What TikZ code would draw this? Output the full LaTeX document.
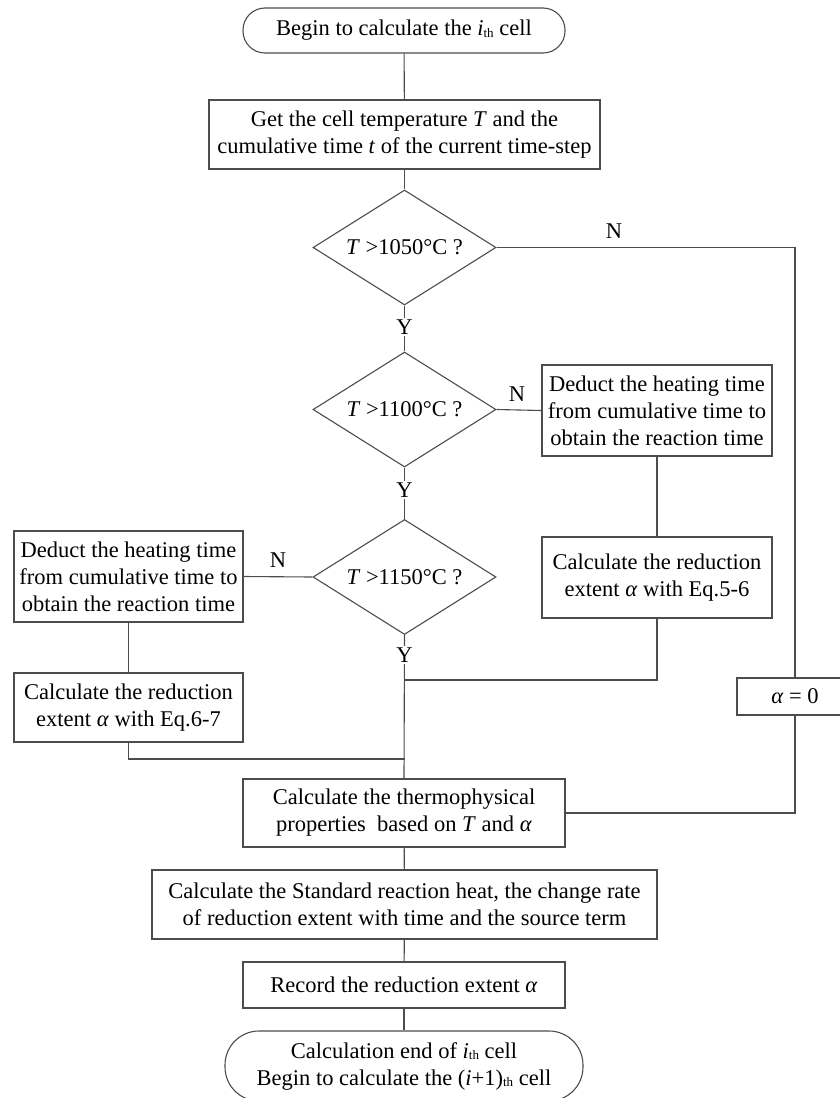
\documentclass[tikz,border=0pt]{standalone}
\usepackage{fontspec}
\setmainfont{Liberation Serif}
\usetikzlibrary{shapes.geometric}
\newcommand{\thsub}{\raisebox{-1.5pt}{\fontsize{13}{13}\selectfont th}}
\begin{document}
\begin{tikzpicture}[x=1pt,y=-1pt,
  every node/.style={font=\fontsize{22.5}{27}\selectfont, text=black},
  ln/.style={draw=black!70, line width=1.1pt},
  box/.style={draw=black!70, line width=1.1pt, rectangle, align=center, inner sep=0pt, fill=white},
  dia/.style={draw=black!70, line width=1.1pt, diamond, inner sep=0pt, minimum width=183pt, minimum height=115pt, aspect=1.6},
  lbl/.style={inner sep=1.5pt, fill=white}]
\useasboundingbox (0,0) rectangle (840,1098);
\clip (0,0) rectangle (840,1098);

\node[box, rounded corners=22pt, minimum width=322pt, minimum height=45pt] (start) at (404,30.5) {Begin to calculate the \textit{i}\thsub\ cell};
\node[box, minimum width=391pt, minimum height=69pt] (get) at (404.5,134.5) {Get the cell temperature \textit{T} and the\\cumulative time \textit{t} of the current time-step};
\node[dia] (d1) at (404.5,247.5) {\textit{T} >1050°C ?};
\node[dia] (d2) at (404.5,409.5) {\textit{T} >1100°C ?};
\node[dia] (d3) at (404.5,577) {\textit{T} >1150°C ?};
\node[box, minimum width=230pt, minimum height=91pt] (r1) at (657,410.5) {Deduct the heating time\\from cumulative time to\\obtain the reaction time};
\node[box, minimum width=230pt, minimum height=81pt] (r2) at (657,577.5) {Calculate the reduction\\extent \textit{α} with Eq.5-6};
\node[box, minimum width=229pt, minimum height=91pt] (l1) at (128.5,576.5) {Deduct the heating time\\from cumulative time to\\obtain the reaction time};
\node[box, minimum width=229pt, minimum height=69pt] (l2) at (128.5,707.5) {Calculate the reduction\\extent \textit{α} with Eq.6-7};
\node[box, minimum width=116pt, minimum height=37pt] (alpha) at (795,696.5) {\textit{α} = 0};
\node[box, minimum width=322pt, minimum height=68pt] (thermo) at (404,813) {Calculate the thermophysical\\properties\ \ based on \textit{T} and \textit{α}};
\node[box, minimum width=505pt, minimum height=69pt] (std) at (404.5,904.5) {Calculate the Standard reaction heat, the change rate\\of reduction extent with time and the source term};
\node[box, minimum width=322pt, minimum height=46pt] (rec) at (404,985) {Record the reduction extent \textit{α}};
\node[box, rounded corners=34pt, minimum width=358pt, minimum height=70pt] (end) at (404,1066) {Calculation end of \textit{i}\thsub\ cell\\Begin to calculate the (\textit{i}+1)\thsub\ cell};

\coordinate (j1) at (404.5,680);
\coordinate (j2) at (404.5,759);

\draw[ln] (start) -- (get);
\draw[ln] (get) -- (d1);
\draw[ln] (d1.east) -| (alpha.north);
\draw[ln] (d1.south) -- (d2.north);
\draw[ln] (d2.east) -- (r1.west);
\draw[ln] (d2.south) -- (d3.north);
\draw[ln] (r1) -- (r2);
\draw[ln] (r2.south) |- (j1);
\draw[ln] (d3.west) -- (l1.east);
\draw[ln] (l1) -- (l2);
\draw[ln] (l2.south) |- (j2);
\draw[ln] (d3.south) -- (thermo.north);
\draw[ln] (alpha.south) |- (thermo.east);
\draw[ln] (thermo) -- (std);
\draw[ln] (std) -- (rec);
\draw[ln] (rec) -- (end);

\node[lbl] (n1) at (614,231) {N};
\node[lbl] (y1) at (404.5,327) {Y};
\node[lbl] (n2) at (517,394) {N};
\node[lbl] (y2) at (404.5,490) {Y};
\node[lbl] (n3) at (278,560) {N};
\node[lbl] (y3) at (404.5,655) {Y};
\end{tikzpicture}
\end{document}
